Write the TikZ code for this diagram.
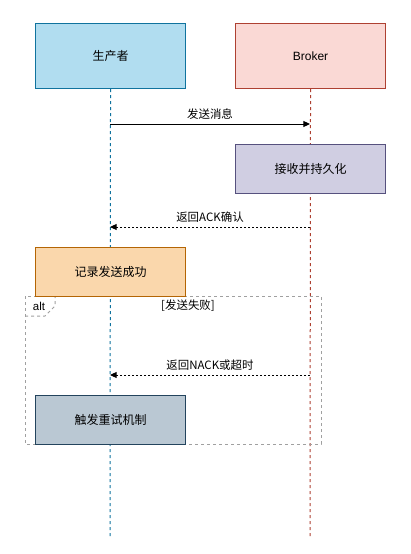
\documentclass[tikz,border=0pt]{standalone}
\usepackage{fontspec}
\setmainfont{Liberation Sans}
\newfontfamily\cjk{Noto Sans CJK SC}
\usetikzlibrary{arrows.meta}
\definecolor{pfill}{HTML}{B1DDF0}\definecolor{pdraw}{HTML}{10739E}
\definecolor{bfill}{HTML}{FAD9D5}\definecolor{bdraw}{HTML}{AE4132}
\definecolor{kfill}{HTML}{D0CEE2}\definecolor{kdraw}{HTML}{56517E}
\definecolor{rfill}{HTML}{FAD7AC}\definecolor{rdraw}{HTML}{B46504}
\definecolor{tfill}{HTML}{BAC8D3}\definecolor{tdraw}{HTML}{23445D}
\definecolor{framec}{HTML}{A0A0A0}
\begin{document}
\begin{tikzpicture}[x=0.75pt,y=-0.75pt,
  box/.style={draw,line width=0.8pt,minimum width=112.5pt,minimum height=#1,inner sep=0pt,font=\cjk\fontsize{9}{11}\selectfont,anchor=north west},
  box/.default=48.75pt,
  life/.style={line width=0.75pt,dash pattern=on 2.25pt off 2.25pt},
  msg/.style={line width=0.75pt,-{Triangle[length=5pt,width=4.5pt]}},
  ret/.style={msg,dash pattern=on 1.5pt off 1.5pt},
  lbl/.style={font=\cjk\fontsize{8.6}{10}\selectfont,inner sep=0pt},
  frm/.style={draw=framec,line width=0.75pt,dash pattern=on 2.25pt off 2.25pt}]
\useasboundingbox (0,0) rectangle (411,554);
% participants
\node[box, fill=pfill, draw=pdraw] (prod) at (35,23) {生产者};
\node[box, fill=bfill, draw=bdraw, font=\fontsize{9}{11}\selectfont] (brok) at (235,23) {Broker};
\coordinate (pend) at (110,539);
\coordinate (bend) at (310,539);
\draw[life,draw=pdraw] (prod.south) -- (pend);
\draw[life,draw=bdraw] (brok.south) -- (bend);
% alt frame
\draw[frm] (25,296) rectangle (321,444);
\draw[frm] (25,316) -- (45,316) -- (55,306) -- (55,296);
\node[font=\fontsize{8.6}{10}\selectfont,inner sep=0pt] (altl) at (39,306) {alt};
\node[lbl] (cond) at (188,306) {[发送失败]};
% activity boxes
\node[box, fill=kfill, draw=kdraw, minimum height=36.75pt] (persist) at (235,144) {接收并持久化};
\node[box, fill=rfill, draw=rdraw, minimum height=36.75pt] (record) at (35,247) {记录发送成功};
\node[box, fill=tfill, draw=tdraw, minimum height=36.75pt] (retry) at (35,395) {触发重试机制};
% messages
\coordinate (p1) at (110,124); \coordinate (b1) at (310,124);
\coordinate (p2) at (110,227); \coordinate (b2) at (310,227);
\coordinate (p3) at (110,375); \coordinate (b3) at (310,375);
\draw[msg] (p1) -- (b1) node[lbl,midway,above=3pt] (m1) {发送消息};
\draw[ret] (b2) -- (p2) node[lbl,midway,above=3pt] (m2) {返回ACK确认};
\draw[ret] (b3) -- (p3) node[lbl,midway,above=3pt] (m3) {返回NACK或超时};
\end{tikzpicture}
\end{document}
